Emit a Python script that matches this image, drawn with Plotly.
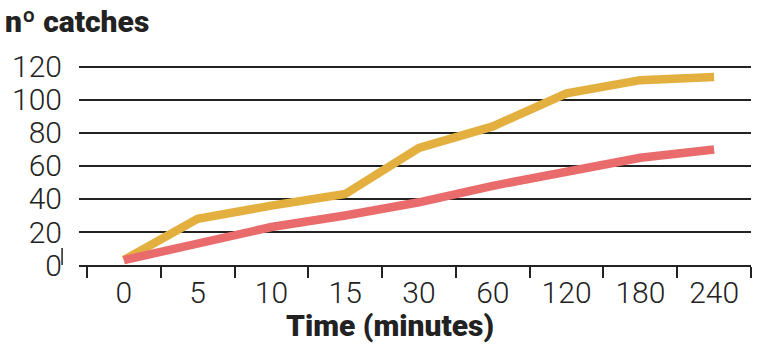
import plotly.graph_objects as go

categories = ["0", "5", "10", "15", "30", "60", "120", "180", "240"]
series_orange = [3, 28, 36, 43, 71, 84, 104, 112, 114]
series_red = [3, 13, 23, 30, 38, 48, 57, 65, 70]
y_ticks = [0, 20, 40, 60, 80, 100, 120]

fig = go.Figure()
fig.add_trace(go.Scatter(x=categories, y=series_orange, mode="lines",
                         line=dict(color="#E3B040", width=8.5), showlegend=False))
fig.add_trace(go.Scatter(x=categories, y=series_red, mode="lines",
                         line=dict(color="#E96B6B", width=8.5), showlegend=False))

tick_font = dict(family="Roboto", size=30, color="#222222", weight=300)
title_font = dict(family="Roboto", size=30, color="#222222", weight=900)

fig.update_layout(
    width=776, height=351,
    margin=dict(l=76, r=25, t=65, b=86),
    paper_bgcolor="white", plot_bgcolor="white",
    xaxis=dict(type="category", range=[-0.608, 8.5], tickson="boundaries",
               ticks="outside", ticklen=11, tickwidth=1.5, tickcolor="#222222",
               showgrid=False, showline=True, linecolor="#222222", linewidth=1.5,
               tickfont=tick_font, zeroline=False),
    yaxis=dict(range=[0, 121.2], tickvals=y_ticks, showgrid=True,
               gridcolor="#222222", gridwidth=1.5, zeroline=False,
               showline=False, ticks="", ticklabelstandoff=16,
               tickfont=tick_font),
    annotations=[
        dict(text="nº catches", xref="paper", yref="paper",
             x=-76/675, y=1 + 43/200, xanchor="left", yanchor="middle",
             showarrow=False, font=title_font),
        dict(text="Time (minutes)", xref="paper", yref="paper",
             x=(388-76)/675, y=-(325-265)/200, xanchor="center", yanchor="middle",
             showarrow=False, font=title_font),
    ],
    shapes=[dict(type="line", xref="paper", yref="y", x0=-17/675, x1=-17/675,
                 y0=-10.9, y1=10.3, line=dict(color="#222222", width=1.5))],
)

fig.write_html("out.html")
